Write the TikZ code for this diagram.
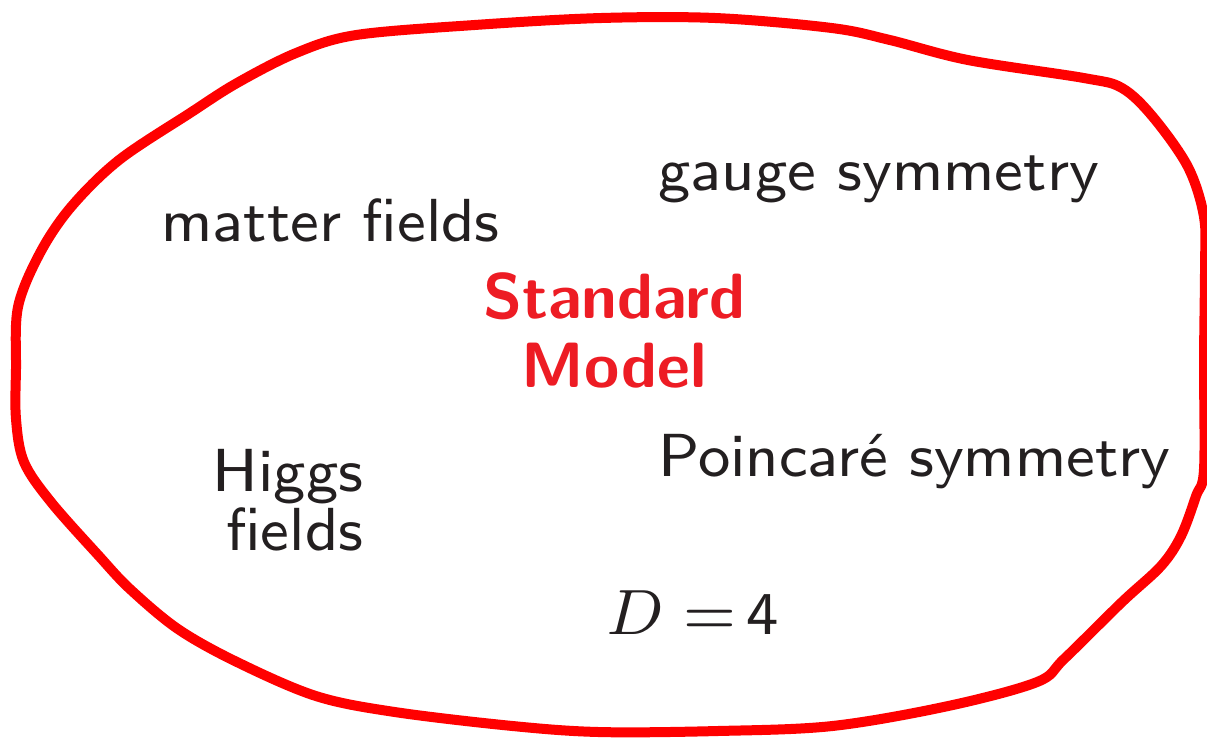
\documentclass[tikz,border=0pt]{standalone}
\usepackage{xcolor}
\usepackage{tikz}
\usetikzlibrary{positioning}
\definecolor{inkgray}{RGB}{35,31,32}
\definecolor{smred}{RGB}{237,28,36}

\begin{document}
\begin{tikzpicture}[
    x=0.125pt, y=-0.125pt,
    label/.style={font=\sffamily\fontsize{7.6}{9}\selectfont, text=inkgray, inner sep=0pt},
    title/.style={font=\sffamily\bfseries\fontsize{8}{8.6}\selectfont, text=smred, inner sep=0pt, align=center},
    loop/.style={draw=red, line width=1.25pt, line join=round}
]
\useasboundingbox (0,0) rectangle (1207,738);

% Hand-drawn outline of the model
\draw[loop] plot[smooth cycle, tension=0.55] coordinates {
    (600,18) (716,18) (832,28) (890,40) (968,60) (1084,78) (1122,88)
    (1153,117) (1188,167) (1204,217) (1205,267) (1204,360) (1204,469)
    (1196,496) (1181,536) (1161,566) (1122,602) (1064,659) (1037,682)
    (948,706) (832,726) (716,731) (600,732) (513,726) (395,712)
    (316,696) (237,662) (178,629) (130,589) (99,556) (51,502) (24,462)
    (16,419) (16,369) (18,307) (40,253) (71,207) (119,160) (190,113)
    (237,83) (296,53) (356,35) (474,25)};

% Centre title
\node[title] (sm) at (614,330) {Standard\\Model};

% Ingredients
\node[label, anchor=base west] (matter) at (160,241) {matter fields};
\node[label, anchor=base west] (gauge) at (657,190) {gauge symmetry};
\node[label, anchor=base west] (poinc) at (657,476) {Poincar\'e symmetry};
\node[label, align=right, font=\sffamily\fontsize{7.6}{7.4}\selectfont] (higgs) at (288,500) {Higgs\\ fields};
\node[label, anchor=base west] (dim) at (605,634) {$D =$\,4};
\end{tikzpicture}
\end{document}
